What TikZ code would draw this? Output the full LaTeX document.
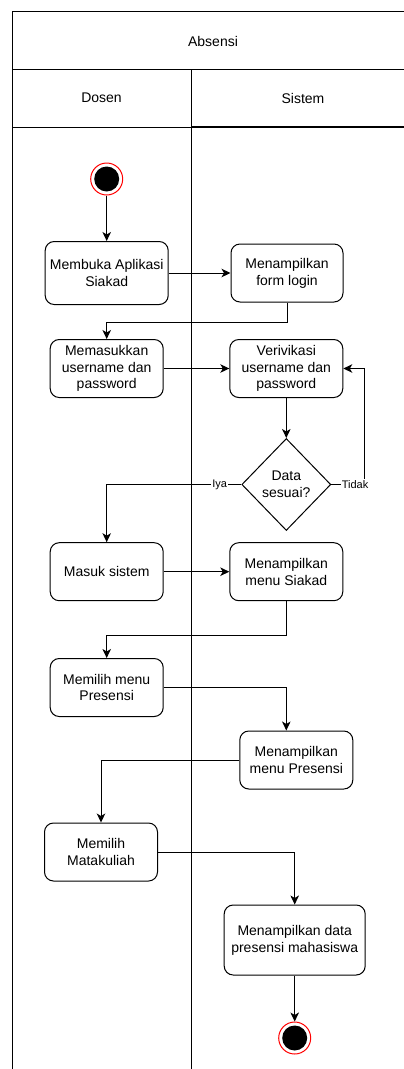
\documentclass[tikz,border=0pt]{standalone}
\usepackage{fontspec}
\setmainfont{Liberation Sans}
\usetikzlibrary{arrows.meta,shapes.geometric}

\newcommand{\boxfont}{\fontsize{14}{16.8}\selectfont}
\newcommand{\guardfont}{\fontsize{11}{13}\selectfont}

\begin{document}
\begin{tikzpicture}[x=1pt,y=-1pt,
            act/.style={draw,rounded corners=9pt,minimum width=113pt,minimum height=58pt,
                inner sep=0pt,align=center,line width=1pt,font=\boxfont},
            cond/.style={draw,diamond,minimum width=89pt,minimum height=92pt,
                inner sep=0pt,align=center,line width=1pt,font=\boxfont},
            lane/.style={font=\boxfont},
            guard/.style={fill=white,inner sep=1pt,font=\guardfont},
            dot/.style={circle,draw=red,fill=white,line width=1pt,minimum size=32pt,inner sep=0pt,
                path picture={\fill[black] (path picture bounding box.center) circle (12.5pt);}},
            flow/.style={-{Stealth[length=9pt,width=8.5pt,inset=2.5pt]},line width=1pt}]
            \useasboundingbox (0,0) rectangle (404,1069);
            \begin{scope}
                \clip (0,0) rectangle (404,1069);
                \draw[line width=1pt] (12,11) rectangle (416,1080);
                \draw[line width=1pt] (12,69) -- (416,69);
                \draw[line width=1pt] (12,127) -- (191,127);
                \draw[line width=1.5pt] (191,127) -- (416,127);
                \draw[line width=1pt] (191,69) -- (191,1080);
            \end{scope}
            \node[lane] (title) at (213,41) {Absensi};
            \node[lane] (dosen) at (101.5,98) {Dosen};
            \node[lane] (sistem) at (303,98) {Sistem};

            \node[dot] (start) at (106.7,179) {};
            \node[act,minimum width=123pt,minimum height=63pt] (buka) at (106.7,273) {Membuka Aplikasi\\Siakad};
            \node[act,minimum width=112pt] (login) at (287,273) {Menampilkan\\form login};
            \node[act] (isi) at (106.7,368.5) {Memasukkan\\username dan\\password};
            \node[act] (verif) at (286.3,368.5) {Verivikasi\\username dan\\password};
            \node[cond] (cek) at (286.3,484.5) {Data\\sesuai?};
            \coordinate (ulang) at (364.3,484.5);
            \node[act] (masuk) at (106.7,571.7) {Masuk sistem};
            \node[act] (siakad) at (286.3,571.7) {Menampilkan\\menu Siakad};
            \node[act] (pilih) at (106.7,687.5) {Memilih menu\\Presensi};
            \node[act] (menu) at (296.3,760) {Menampilkan\\menu Presensi};
            \node[act] (matkul) at (101,852) {Memilih\\Matakuliah};
            \node[act,minimum width=141pt,minimum height=70pt] (data) at (294.7,940) {Menampilkan data\\presensi mahasiswa};
            \node[dot] (stop) at (294.7,1038) {};

            \draw[flow] (start) -- (buka);
            \draw[flow] (buka) -- (login);
            \draw[flow] (login.south) -- ++(0,20) -| (isi.north);
            \draw[flow] (isi) -- (verif);
            \draw[flow] (verif) -- (cek);
            \draw[flow] (cek.west) -| node[guard,pos=0.08] (iya) {Iya} (masuk.north);
            \draw[flow] (cek.east) -- node[guard,pos=0.72] (tidak) {Tidak} (ulang) |- (verif.east);
            \draw[flow] (masuk) -- (siakad);
            \draw[flow] (siakad.south) -- ++(0,34) -| (pilih.north);
            \draw[flow] (pilih.east) -| ([xshift=-10pt]menu.north);
            \draw[flow] (menu.west) -| (matkul.north);
            \draw[flow] (matkul.east) -| (data.north);
            \draw[flow] (data) -- (stop);
        \end{tikzpicture}
\end{document}
